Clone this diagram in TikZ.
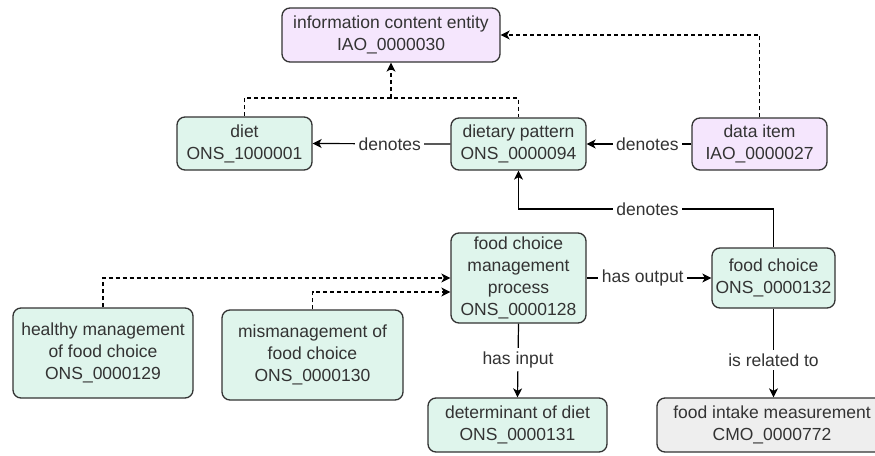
\documentclass[tikz,border=0pt]{standalone}
\usepackage{fontspec}
\setmainfont{Liberation Sans}
\usetikzlibrary{arrows.meta}
\definecolor{txt}{HTML}{333333}
\definecolor{edge}{HTML}{333333}
\definecolor{mint}{HTML}{DFF5EC}
\definecolor{lilac}{HTML}{F5E6FD}
\definecolor{lgray}{HTML}{EEEEEE}
\tikzset{
  box/.style={draw=edge, line width=1.3pt, rounded corners=8pt, align=center,
    text=txt, inner sep=0pt, font=\fontsize{17.5}{22}\selectfont},
  gbox/.style={box, fill=mint},
  pbox/.style={box, fill=lilac},
  ybox/.style={box, fill=lgray},
  conn/.style={draw=black, line width=1.2pt},
  arr/.style={conn, -{Stealth[length=9pt,width=9pt,inset=2.5pt]}},
  darr/.style={arr, dash pattern=on 4pt off 3pt},
  dline/.style={conn, dash pattern=on 4pt off 3pt},
  lab/.style={fill=white, text=txt, inner sep=3.5pt, font=\fontsize{17.5}{22}\selectfont}
}
\begin{document}
\begin{tikzpicture}[x=1pt,y=-1pt]
\useasboundingbox (0,0) rectangle (875,455);
\node[pbox, minimum width=218pt, minimum height=54pt] (ice) at (391,35) {information content entity\\IAO\_0000030};
\node[gbox, minimum width=135pt, minimum height=53pt] (diet) at (244.5,143.5) {diet\\ONS\_1000001};
\node[gbox, minimum width=135pt, minimum height=52pt] (dp) at (518.5,144) {dietary pattern\\ONS\_0000094};
\node[pbox, minimum width=135pt, minimum height=52pt] (di) at (759.5,144) {data item\\IAO\_0000027};
\node[gbox, minimum width=135pt, minimum height=90pt] (fcmp) at (518.5,278) {food choice\\management\\process\\ONS\_0000128};
\node[gbox, minimum width=123pt, minimum height=60pt] (fc) at (773.5,278) {food choice\\ONS\_0000132};
\node[gbox, minimum width=180pt, minimum height=90pt] (hm) at (103,353) {healthy management\\of food choice\\ONS\_0000129};
\node[gbox, minimum width=181pt, minimum height=90pt] (mm) at (312.5,355) {mismanagement of\\food choice\\ONS\_0000130};
\node[gbox, minimum width=179pt, minimum height=54pt] (dd) at (517.5,425) {determinant of diet\\ONS\_0000131};
\node[ybox, minimum width=230pt, minimum height=54pt] (fim) at (772,425) {food intake measurement\\CMO\_0000772};

% is_a (dashed) to ICE
\coordinate (j1) at (391,98);
\draw[dline] (diet.north) |- (j1) -| (dp.north);
\draw[darr] (j1) -- (ice.south);
\draw[darr] (di.north) |- (ice.east);

% denotes
\draw[arr] (dp.west) -- node[lab, pos=0.44] {denotes} (diet.east);
\draw[arr] (di.west) -- node[lab, pos=0.42] {denotes} (dp.east);
\coordinate (j2) at (518.5,209);
\draw[arr] (fc.north) |- node[lab, pos=0.747] {denotes} (j2) -- (dp.south);

% has output / has input / is related to
\draw[arr] (fcmp.east) -- node[lab, pos=0.45] {has output} (fc.west);
\draw[arr] (fcmp.south) -- node[lab, pos=0.49] {has input} (dd.north);
\draw[arr] (fc.south) -- node[lab, pos=0.58] {is related to} (fim.north -| fc.south);

% subclasses to fcmp
\draw[darr] (hm.north) |- (fcmp.west);
\draw[darr] (mm.north) |- ([yshift=-14pt]fcmp.west);
\end{tikzpicture}
\end{document}
